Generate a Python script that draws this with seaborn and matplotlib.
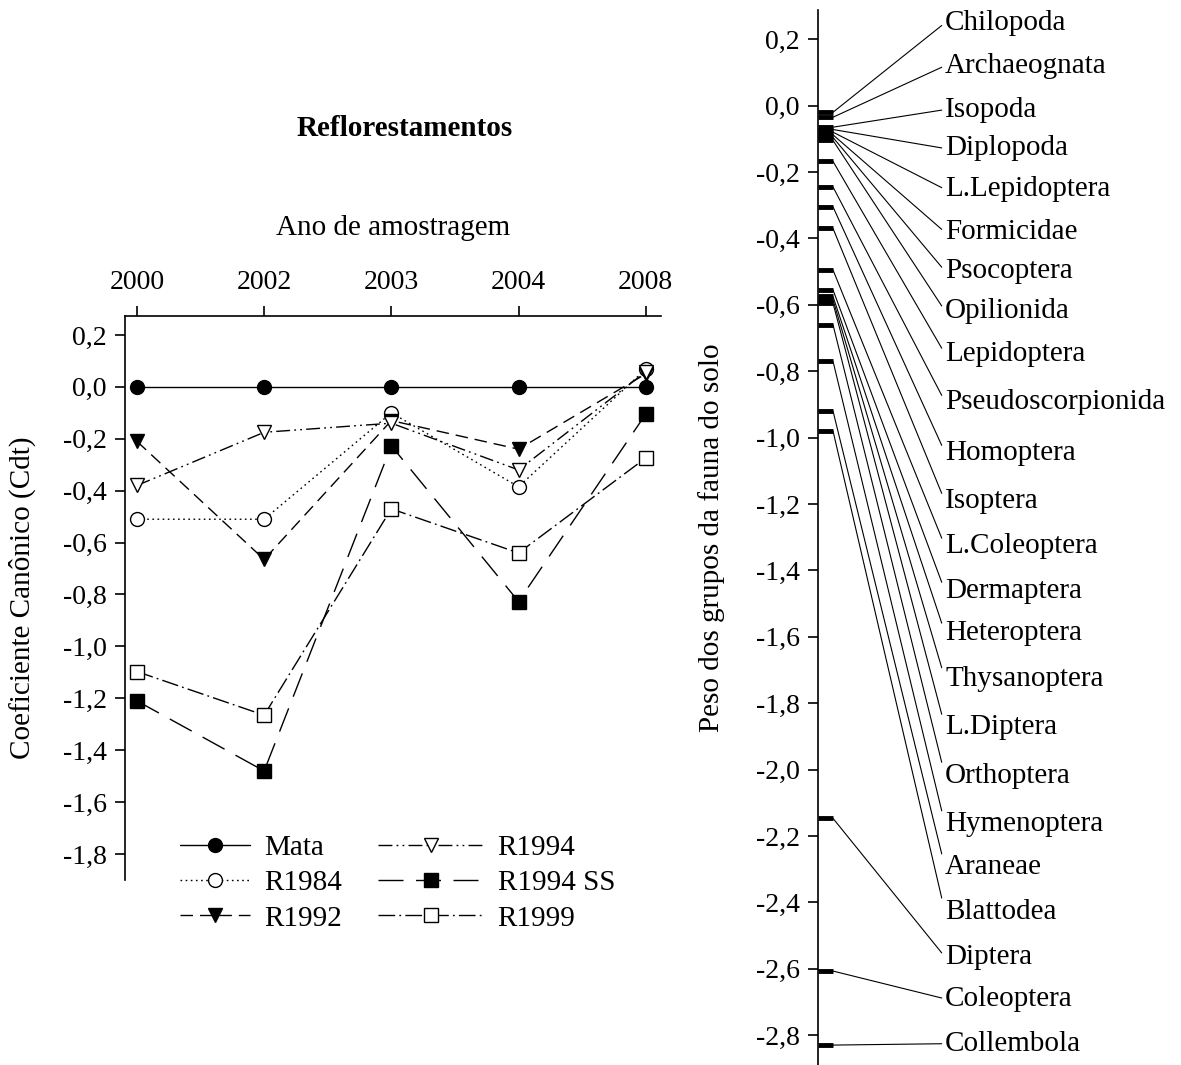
import numpy as np
import pandas as pd
import matplotlib
matplotlib.use('Agg')
import matplotlib.pyplot as plt
from matplotlib.ticker import FuncFormatter
import seaborn as sns

# dados
anos = ['2000', '2002', '2003', '2004', '2008']
mata = [0.0, 0.0, 0.0, 0.0, 0.0]
r1984 = [-0.51, -0.51, -0.10, -0.385, 0.068]
r1992 = [-0.21, -0.665, -0.13, -0.24, 0.05]
r1994 = [-0.38, -0.175, -0.14, -0.32, 0.058]
r1994_ss = [-1.21, -1.48, -0.227, -0.827, -0.105]
r1999 = [-1.097, -1.265, -0.47, -0.64, -0.274]
series_nomes = ['Mata', 'R1984', 'R1992', 'R1994', 'R1994 SS', 'R1999']

grupos = ['Chilopoda', 'Archaeognata', 'Isopoda', 'Diplopoda', 'L.Lepidoptera',
          'Formicidae', 'Psocoptera', 'Opilionida', 'Lepidoptera',
          'Pseudoscorpionida', 'Homoptera', 'Isoptera', 'L.Coleoptera',
          'Dermaptera', 'Heteroptera', 'Thysanoptera', 'L.Diptera',
          'Orthoptera', 'Hymenoptera', 'Araneae', 'Blattodea', 'Diptera',
          'Coleoptera', 'Collembola']
pesos = [-0.02, -0.035, -0.065, -0.072, -0.08, -0.088, -0.096, -0.105,
         -0.168, -0.245, -0.305, -0.37, -0.495, -0.555, -0.575, -0.585,
         -0.595, -0.66, -0.77, -0.92, -0.98, -2.147, -2.607, -2.83]

df = pd.DataFrame({
    'Ano': anos * 6,
    'Cdt': mata + r1984 + r1992 + r1994 + r1994_ss + r1999,
    'Serie': np.repeat(series_nomes, len(anos)),
})

sns.set_theme(style='ticks')
plt.rcParams['font.family'] = ['Liberation Serif', 'DejaVu Serif']
plt.rcParams['axes.linewidth'] = 1.2
plt.rcParams['xtick.major.width'] = 1.2
plt.rcParams['ytick.major.width'] = 1.2
plt.rcParams['xtick.color'] = 'black'
plt.rcParams['ytick.color'] = 'black'
plt.rcParams['axes.edgecolor'] = 'black'
plt.rcParams['text.color'] = 'black'
plt.rcParams['axes.labelcolor'] = 'black'
plt.rcParams['axes.titlecolor'] = 'black'

estilos = {
    'Mata': dict(marker='o', linestyle='-', mfc='black'),
    'R1984': dict(marker='o', linestyle=(0, (1.2, 2.5)), mfc='white'),
    'R1992': dict(marker='v', linestyle=(0, (9, 5)), mfc='black'),
    'R1994': dict(marker='v', linestyle=(0, (10, 3, 1.3, 3, 1.3, 3)), mfc='white'),
    'R1994 SS': dict(marker='s', linestyle=(0, (18, 9)), mfc='black'),
    'R1999': dict(marker='s', linestyle=(0, (12, 3, 1.3, 3)), mfc='white'),
}

fig = plt.figure(figsize=(11.81, 10.65), dpi=100)
ax = fig.add_axes([125 / 1181, 1 - 880 / 1065, 536 / 1181, 564 / 1065])

for nome in series_nomes:
    sub = df[df['Serie'] == nome]
    st = estilos[nome]
    sns.lineplot(data=sub, x='Ano', y='Cdt', ax=ax, color='black', lw=1.0,
                 marker=st['marker'], linestyle=st['linestyle'],
                 markerfacecolor=st['mfc'], markeredgecolor='black',
                 markeredgewidth=1.0, markersize=10, label=nome,
                 errorbar=None)

fmt = FuncFormatter(lambda v, p: f'{round(v, 1) + 0.0:.1f}'.replace('.', ','))

ax.set_xlim(-0.094, 4.12)
ax.set_ylim(-1.9, 0.273)
ax.set_yticks(np.round(np.arange(-9, 2) * 0.2, 1))
ax.yaxis.set_major_formatter(fmt)
ax.xaxis.tick_top()
ax.xaxis.set_label_position('top')
ax.spines['right'].set_visible(False)
ax.spines['bottom'].set_visible(False)
ax.tick_params(axis='both', direction='out', length=7, labelsize=20, pad=6)
ax.tick_params(axis='x', pad=8)
ax.set_xlabel('Ano de amostragem', fontsize=21)
ax.xaxis.set_label_coords(0.5, (880 - 228) / 564)
ax.xaxis.label.set_va('center')
ax.set_ylabel('Coeficiente Canônico (Cdt)', fontsize=21)
ax.yaxis.set_label_coords((22 - 125) / 536, 0.5)
ax.yaxis.label.set_va('center')
ax.set_title('Reflorestamentos', fontsize=21, fontweight='bold',
             x=(405 - 125) / 536, y=(880 - 137) / 564, va='center')

# legenda em duas colunas, cada uma com o seu comprimento de traco
h, l = ax.get_legend_handles_labels()
leg_kw = dict(frameon=False, loc='upper left', borderpad=0, borderaxespad=0,
              labelspacing=0.3, handletextpad=0.5, fontsize=21)
leg1 = ax.legend(h[:3], l[:3], bbox_to_anchor=((180 - 125) / 536, 0.08),
                 handlelength=2.4, **leg_kw)
ax.add_artist(leg1)
ax.legend(h[3:], l[3:], bbox_to_anchor=((378 - 125) / 536, 0.08),
          handlelength=3.6, **leg_kw)

# painel direito: pesos dos grupos
ax2 = fig.add_axes([818 / 1181, 0, 363 / 1181, 1 - 10 / 1065])
ax2.set_xlim(0, 1)
ax2.set_ylim(-2.89, 0.288)
for s in ['top', 'right', 'bottom']:
    ax2.spines[s].set_visible(False)
ax2.set_xticks([])
ax2.set_yticks(np.round(np.arange(-14, 2) * 0.2, 1))
ax2.yaxis.set_major_formatter(fmt)
ax2.tick_params(axis='y', direction='out', length=7, labelsize=20, pad=6)
ax2.set_ylabel('Peso dos grupos da fauna do solo', fontsize=21)
ax2.yaxis.set_label_coords((712 - 818) / 363, 0.5)
ax2.yaxis.label.set_va('center')

traco = 15 / 363
ax2.hlines(pesos, 0, traco, color='black', lw=3.5)

rotulo_px = [23, 66, 110, 149, 190, 233, 272, 312, 355, 403, 454, 503, 548,
             593, 635, 681, 729, 778, 827, 870, 915, 960, 1002, 1047]
px_por_unidade = 333
for nome, w, ypx in zip(grupos, pesos, rotulo_px):
    ly = (106 - ypx) / px_por_unidade
    ax2.annotate(nome, xy=(traco, w), xytext=((945 - 818) / 363, ly),
                 va='center', ha='left', fontsize=21,
                 arrowprops=dict(arrowstyle='-', color='black', lw=0.8,
                                 shrinkA=0, shrinkB=0, relpos=(0, 0.5)))

fig.savefig('out.png', dpi=100)
